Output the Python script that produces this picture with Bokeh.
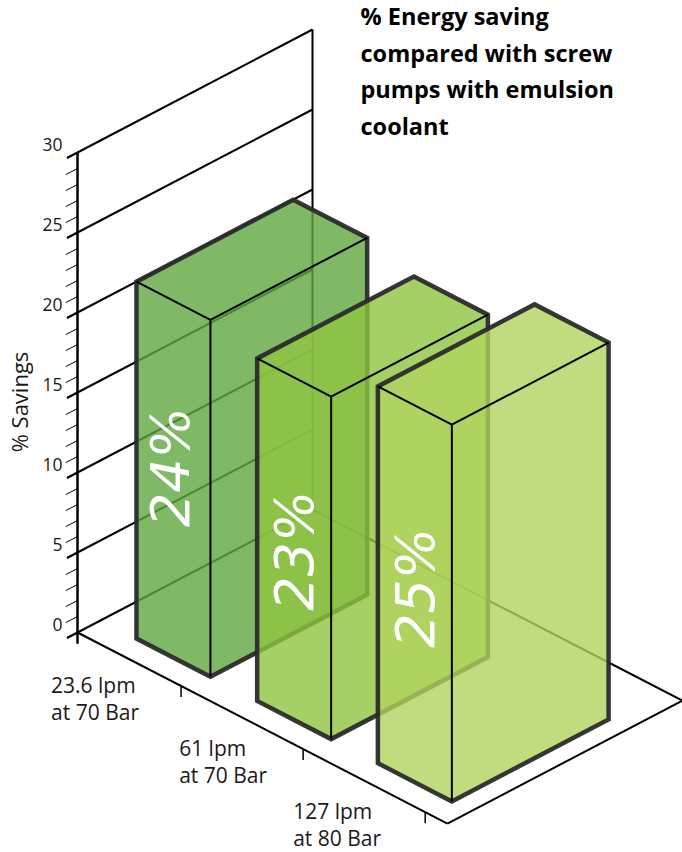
from bokeh.plotting import figure
from bokeh.embed import file_html
from bokeh.resources import INLINE
from bokeh.core.properties import value

# ---- data ----
title_lines = ["% Energy saving", "compared with screw", "pumps with emulsion", "coolant"]
axis_title = "% Savings"
y_major = [0, 5, 10, 15, 20, 25, 30]
y_minor = [v for v in range(0, 30) if v % 5 != 0]
cat_line1 = ["23.6 lpm", "61 lpm", "127 lpm"]
cat_line2 = ["at 70 Bar", "at 70 Bar", "at 80 Bar"]
bar_labels = ["24%", "23%", "25%"]
bar_heights = [22.3, 21.4, 23.55]   # as measured against the printed axis
bar_colors = ["#5FA840", "#8EC440", "#B0D35E"]

# ---- oblique projection layout (reference px, y up) ----
W, H = 682, 852
OX, OY = 77, 220            # where category 0 / value 0 / depth 0 lands
CAT = (123.3, -63.7)        # one category step
DEP = (235.0, 123.0)        # full depth of the floor
VAL = 16.0                  # px per axis unit
BAR_START, BAR_PITCH, BAR_W = 0.2875, 0.979, 0.60
BAR_D0, BAR_D = 0.10, 0.667
TICK_START, TICK_PITCH = 0.84, 0.99
LABEL_DX = [-130, -124, -132]
PCT_DX = [56, 59, 59]
PCT_DY = [-67, -81, -73]
SHIFT = 0.4                 # em the alphabetic anchor sits off in the svg output
SZ_TICK, SZ_CAT, SZ_AXIS, SZ_PCT, SZ_TITLE = 17.5, 21, 22, 54, 23.5


def proj(c, v, d):
    return (OX + c * CAT[0] + d * DEP[0], OY + c * CAT[1] + d * DEP[1] + v * VAL)


def seg(a, b):
    return [a[0], b[0]], [a[1], b[1]]


p = figure(width=W, height=H, x_range=(0, W), y_range=(0, H), output_backend="svg",
           toolbar_location=None, min_border=0)
p.axis.visible = False
p.grid.visible = False
p.outline_line_color = None


def lines(pairs, width, color="#000000"):
    xs, ys = [], []
    for a, b in pairs:
        sx, sy = seg(a, b)
        xs.append(sx)
        ys.append(sy)
    p.multi_line(xs, ys, line_color=color, line_width=width, line_cap="butt")


# back wall, floor
lines([(proj(0, v, 0), proj(0, v, 1)) for v in y_major], 2)
lines([(proj(0, 0, 1), proj(0, 30, 1))], 2)
n = len(cat_line1)
lines([(proj(0, 0, 0), proj(n, 0, 0)), (proj(n, 0, 0), proj(n, 0, 1)), (proj(n, 0, 1), proj(0, 0, 1))], 2)

# value axis and its ticks
lines([(proj(0, -0.7, 0), proj(0, 30, 0))], 2.5)
lines([(proj(0, v, 0), proj(0, v, -0.045)) for v in y_major], 2.2)
lines([(proj(0, v, 0), proj(0, v, -0.05)) for v in y_minor], 1)
p.text([62] * len(y_major), [proj(0, v, 0)[1] + 1.5 + SHIFT * SZ_TICK for v in y_major],
       text=[str(v) for v in y_major],
       text_font=value("Open Sans"), text_font_size=value(f"{SZ_TICK}px"), text_color="#1a1a1a",
       text_align="right", text_baseline="alphabetic")
p.text([27 - SHIFT * SZ_AXIS], [450.5], text=[axis_title], angle=[90], angle_units="deg",
       text_font=value("Open Sans"), text_font_size=value(f"{SZ_AXIS}px"), text_color="#1a1a1a",
       text_align="center", text_baseline="alphabetic")

# category ticks and labels
for i in range(n):
    t = TICK_START + i * TICK_PITCH
    base = proj(t, 0, 0)
    lines([(base, (base[0], base[1] - 11))], 1.5)
    yb = base[1] + SHIFT * SZ_CAT
    p.text([base[0] + LABEL_DX[i]] * 2, [yb - 7, yb - 34.5],
           text=[cat_line1[i], cat_line2[i]],
           text_font=value("Open Sans"), text_font_size=value(f"{SZ_CAT}px"), text_color="#1a1a1a",
           text_align="left", text_baseline="alphabetic")

# bars, painted back to front in category order
for i, h in enumerate(bar_heights):
    c0 = BAR_START + i * BAR_PITCH
    c1 = c0 + BAR_W
    d0, d1 = BAR_D0, BAR_D0 + BAR_D
    outline = [proj(c0, 0, d0), proj(c0, h, d0), proj(c0, h, d1), proj(c1, h, d1),
               proj(c1, 0, d1), proj(c1, 0, d0)]
    p.patch([q[0] for q in outline], [q[1] for q in outline], fill_color=bar_colors[i], fill_alpha=0.8,
            line_color="#2b2b2b", line_alpha=0.95, line_width=4.5, line_join="miter")
    lines([(proj(c0, h, d0), proj(c1, h, d0)), (proj(c1, h, d0), proj(c1, h, d1)),
           (proj(c1, h, d0), proj(c1, 0, d0))], 2)
    # the big percentage label runs up the bar's front face
    bx = proj(c0, 0, d0)[0] + PCT_DX[i] - SHIFT * SZ_PCT
    by = proj(c0, h * 0.5, d0)[1] + PCT_DY[i]
    p.text([bx], [by], text=[bar_labels[i]], angle=[90], angle_units="deg",
           text_font=value("DejaVu Sans"), text_font_style="italic", text_font_size=value(f"{SZ_PCT}px"),
           text_color="#ffffff", text_align="left", text_baseline="alphabetic")

# title
for k, line in enumerate(title_lines):
    p.text([360], [H - 25 - k * 36.6 + SHIFT * SZ_TITLE], text=[line], text_font=value("Open Sans"),
           text_font_style="bold", text_font_size=value(f"{SZ_TITLE}px"), text_color="#000000",
           text_align="left", text_baseline="alphabetic")

open("out.html", "w").write(file_html(p, INLINE))
